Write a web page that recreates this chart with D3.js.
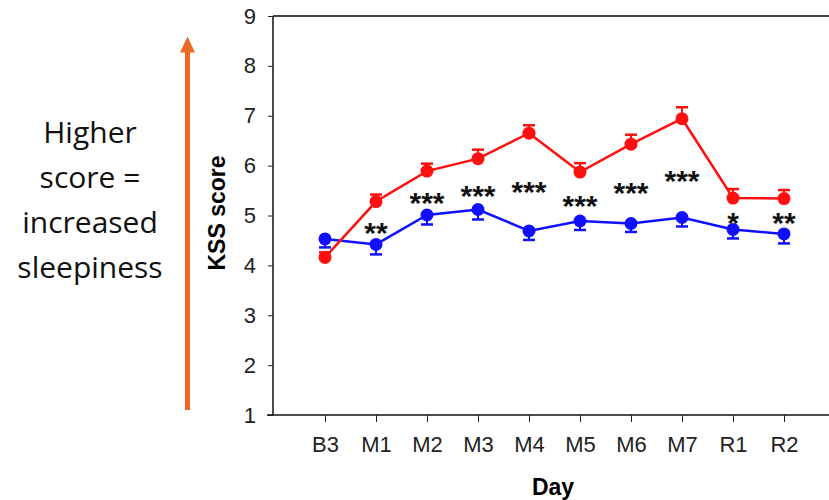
<!DOCTYPE html>
<html>
<head>
<meta charset="utf-8">
<script src="https://cdn.jsdelivr.net/npm/d3@7"></script>
<style>
  body { margin: 0; background: #fff; }
  svg { display: block; }
</style>
</head>
<body>
<svg></svg>
<script>
const SVGsize = {w: 829, h: 500};
const plot = {l: 273, r: 829, t: 16, b: 415};

// data
const days = ['B3', 'M1', 'M2', 'M3', 'M4', 'M5', 'M6', 'M7', 'R1', 'R2'];
const redMean = [4.16, 5.28, 5.89, 6.14, 6.65, 5.87, 6.43, 6.94, 5.35, 5.34];
const redErr  = [0.10, 0.14, 0.15, 0.18, 0.16, 0.18, 0.19, 0.23, 0.18, 0.17];
const blueMean = [4.53, 4.42, 5.01, 5.12, 4.69, 4.89, 4.84, 4.96, 4.72, 4.63];
const blueErr  = [0.17, 0.20, 0.19, 0.20, 0.18, 0.18, 0.17, 0.18, 0.18, 0.19];
const stars = ['', '**', '***', '***', '***', '***', '***', '***', '*', '**'];
const starY = [0, 4.78, 5.40, 5.54, 5.62, 5.34, 5.60, 5.84, 5.00, 4.98];
const yTicks = [1, 2, 3, 4, 5, 6, 7, 8, 9];
const noteLines = ['Higher', 'score =', 'increased', 'sleepiness'];

const svg = d3.select('svg')
    .attr('width', SVGsize.w)
    .attr('height', SVGsize.h);

const scaleX = d3.scalePoint()
    .domain(days)
    .range([325, 784]);

const scaleY = d3.scaleLinear()
    .domain([1, 9])
    .range([plot.b, plot.t]);

// frame: top line
svg.append('line')
    .attr('x1', plot.l).attr('x2', plot.r)
    .attr('y1', plot.t).attr('y2', plot.t)
    .attr('stroke', '#444').attr('stroke-width', 2);

// y axis
let axisY = d3.axisLeft(scaleY).tickValues(yTicks).tickSize(5).tickPadding(12);
let axisYG = svg.append('g')
    .attr('transform', `translate(${plot.l}, 0)`)
    .call(axisY);
axisYG.select('.domain').attr('d', `M0,${plot.t}V${plot.b}`).attr('stroke', '#111').attr('stroke-width', 1.5);

// x axis
let axisX = d3.axisBottom(scaleX).tickSize(7).tickPadding(14);
let axisXG = svg.append('g')
    .attr('transform', `translate(0, ${plot.b})`)
    .call(axisX);
axisXG.select('.domain').attr('d', `M267,0H${plot.r}`).attr('stroke', '#111').attr('stroke-width', 1.5);

svg.selectAll('.tick text')
    .style('font-family', 'Liberation Sans, Arial, sans-serif')
    .style('font-size', '22px')
    .attr('fill', '#222');
svg.selectAll('.tick line').attr('stroke', '#222');

// axis titles
svg.append('text')
    .attr('transform', `translate(225, 213) rotate(-90)`)
    .attr('text-anchor', 'middle')
    .attr('font-family', 'Liberation Sans, Arial, sans-serif')
    .attr('font-weight', 'bold')
    .attr('font-size', 23)
    .text('KSS score');

svg.append('text')
    .attr('x', 553).attr('y', 495)
    .attr('text-anchor', 'middle')
    .attr('font-family', 'Liberation Sans, Arial, sans-serif')
    .attr('font-weight', 'bold')
    .attr('font-size', 23)
    .text('Day');

function drawSeries(means, errs, color, dir) {
    const g = svg.append('g');
    const rows = days.map((d, i) => ({day: d, v: means[i], e: errs[i]}));

    // error bars (one-sided)
    g.selectAll('line.err')
        .data(rows)
        .join('line')
        .attr('x1', d => scaleX(d.day)).attr('x2', d => scaleX(d.day))
        .attr('y1', d => scaleY(d.v))
        .attr('y2', d => scaleY(d.v + dir * d.e))
        .attr('stroke', color).attr('stroke-width', 2);
    g.selectAll('line.cap')
        .data(rows)
        .join('line')
        .attr('x1', d => scaleX(d.day) - 6).attr('x2', d => scaleX(d.day) + 6)
        .attr('y1', d => scaleY(d.v + dir * d.e))
        .attr('y2', d => scaleY(d.v + dir * d.e))
        .attr('stroke', color).attr('stroke-width', 2.5);

    g.append('path')
        .datum(rows)
        .attr('fill', 'none')
        .attr('stroke', color)
        .attr('stroke-width', 2.5)
        .attr('d', d3.line().x(d => scaleX(d.day)).y(d => scaleY(d.v)));

    g.selectAll('circle')
        .data(rows)
        .join('circle')
        .attr('cx', d => scaleX(d.day))
        .attr('cy', d => scaleY(d.v))
        .attr('r', 6.5)
        .attr('fill', color);
}

drawSeries(blueMean, blueErr, '#1010ff', -1);
drawSeries(redMean, redErr, '#ff1010', 1);

// significance stars
svg.append('g')
    .selectAll('text')
    .data(days.map((d, i) => ({day: d, s: stars[i], y: starY[i]})).filter(d => d.s))
    .join('text')
    .attr('x', d => scaleX(d.day))
    .attr('y', d => scaleY(d.y) + 17)
    .attr('text-anchor', 'middle')
    .attr('font-family', 'Liberation Sans, Arial, sans-serif')
    .attr('font-weight', 'bold')
    .attr('font-size', 30)
    .attr('fill', '#111')
    .text(d => d.s);

// left note and arrow
svg.append('g')
    .selectAll('text')
    .data(noteLines)
    .join('text')
    .attr('x', 90)
    .attr('y', (d, i) => 143 + i * 45)
    .attr('text-anchor', 'middle')
    .attr('font-family', 'Open Sans, Noto Sans, sans-serif')
    .attr('font-size', 30)
    .attr('fill', '#111')
    .text(d => d);

const orange = '#ea6a25';
svg.append('line')
    .attr('x1', 187.5).attr('x2', 187.5)
    .attr('y1', 410).attr('y2', 50)
    .attr('stroke', orange).attr('stroke-width', 5);
svg.append('path')
    .attr('d', 'M187.5,36.5L195,52.5L180,52.5Z')
    .attr('fill', orange);
</script>
</body>
</html>
